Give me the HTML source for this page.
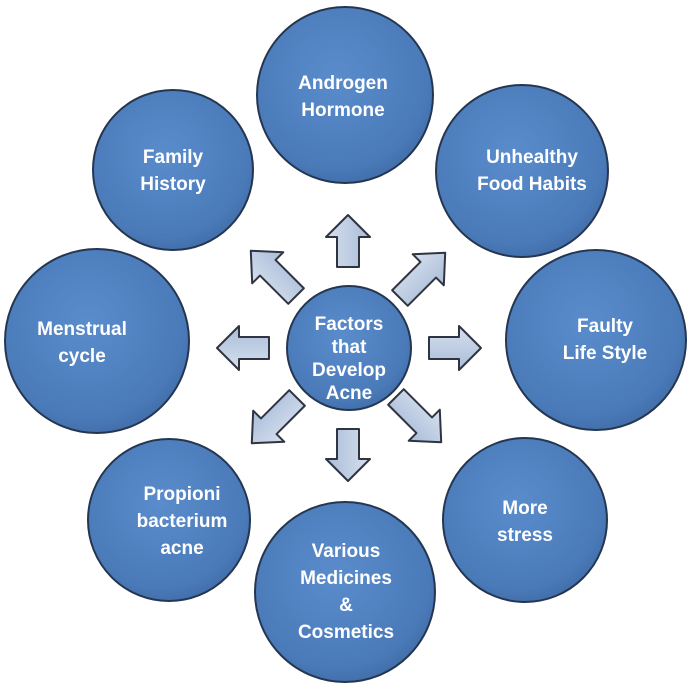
<!DOCTYPE html>
<html><head><style>body{margin:0;background:#fff}svg{display:block}text{font-family:"Liberation Sans",sans-serif;font-weight:bold;fill:#fff;font-size:19px;text-anchor:middle}</style></head><body>
<svg width="693" height="690" viewBox="0 0 693 690">
<defs>
<radialGradient id="g" cx="0.45" cy="0.4" r="0.65"><stop offset="0" stop-color="#5a8ccc"/><stop offset="0.8" stop-color="#4a7ab8"/><stop offset="1" stop-color="#3f6aa6"/></radialGradient>
<linearGradient id="a" x1="0" y1="0" x2="0" y2="1"><stop offset="0" stop-color="#d6e0ee"/><stop offset="1" stop-color="#a9bcd8"/></linearGradient>
<path id="ar" d="M-26,-11 L4,-11 L4,-22 L26,0 L4,22 L4,11 L-26,11 Z" fill="url(#a)" stroke="#2f3440" stroke-width="2" stroke-linejoin="round"/>
<path id="ad" d="M-34,-11 L6,-11 L6,-22 L30,0 L6,22 L6,11 L-34,11 Z" fill="url(#a)" stroke="#2f3440" stroke-width="2" stroke-linejoin="round"/>
</defs>
<g stroke="#243650" stroke-width="2" fill="url(#g)">
<circle cx="345" cy="95" r="88"/>
<circle cx="173" cy="170" r="80"/>
<circle cx="522" cy="171" r="86"/>
<circle cx="97" cy="341" r="92"/>
<circle cx="596" cy="340" r="90"/>
<circle cx="169" cy="520" r="81"/>
<circle cx="345" cy="592" r="90"/>
<circle cx="525" cy="520" r="82"/>
<circle cx="349" cy="348" r="62"/>
</g>
<use href="#ar" transform="translate(348,241) rotate(-90)"/>
<use href="#ar" transform="translate(455,348)"/>
<use href="#ar" transform="translate(348,455) rotate(90)"/>
<use href="#ar" transform="translate(243,348) rotate(180)"/>
<use href="#ad" transform="translate(272,272) rotate(-135)"/>
<use href="#ad" transform="translate(424,274) rotate(-45)"/>
<use href="#ad" transform="translate(273,422) rotate(135)"/>
<use href="#ad" transform="translate(420,421) rotate(45)"/>
<text x="343" y="89">Androgen</text><text x="343" y="116">Hormone</text>
<text x="173" y="163">Family</text><text x="173" y="190">History</text>
<text x="532" y="163">Unhealthy</text><text x="532" y="190">Food Habits</text>
<text x="82" y="335">Menstrual</text><text x="82" y="362">cycle</text>
<text x="605" y="332">Faulty</text><text x="605" y="359">Life Style</text>
<text x="182" y="500">Propioni</text><text x="182" y="527">bacterium</text><text x="182" y="554">acne</text>
<text x="346" y="557">Various</text><text x="346" y="584">Medicines</text><text x="346" y="611">&amp;</text><text x="346" y="638">Cosmetics</text>
<text x="525" y="514">More</text><text x="525" y="541">stress</text>
<g style="font-size:21px"><text x="349" y="330">Factors</text><text x="349" y="353">that</text><text x="349" y="376">Develop</text><text x="349" y="399">Acne</text></g>
</svg>
</body></html>
